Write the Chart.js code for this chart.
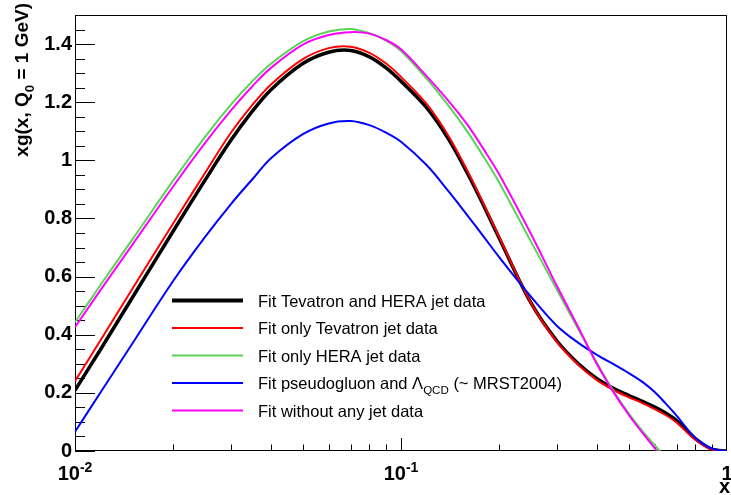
<!DOCTYPE html>
<html>
<head>
<meta charset="utf-8">
<script src="https://cdn.jsdelivr.net/npm/chart.js@4.4.1/dist/chart.umd.min.js"></script>
<style>
  body { margin: 0; background: #fff; }
  canvas { display: block; }
</style>
</head>
<body>
<canvas id="c" width="731" height="495"></canvas>
<script>
// x grid (log scale) for the fits that reach x = 1
var xFull = [0.01, 0.012, 0.015, 0.02, 0.025, 0.03, 0.035, 0.04, 0.05, 0.06, 0.07, 0.08, 0.09, 0.1,
             0.12, 0.14, 0.16, 0.18, 0.2, 0.25, 0.3, 0.35, 0.4, 0.45, 0.5, 0.55, 0.6, 0.65, 0.7, 0.8, 0.9, 1.0];
// the fits without Tevatron data drop to zero near x = 0.6
var xHera = [0.01, 0.012, 0.015, 0.02, 0.025, 0.03, 0.035, 0.04, 0.05, 0.06, 0.07, 0.08, 0.09, 0.1,
             0.12, 0.14, 0.16, 0.18, 0.2, 0.25, 0.3, 0.35, 0.4, 0.45, 0.5, 0.55, 0.6, 0.623];
var xNoJet = [0.01, 0.012, 0.015, 0.02, 0.025, 0.03, 0.035, 0.04, 0.05, 0.06, 0.07, 0.08, 0.09, 0.1,
              0.12, 0.14, 0.16, 0.18, 0.2, 0.25, 0.3, 0.35, 0.4, 0.45, 0.5, 0.55, 0.6, 0.609];

var yTevHera = [0.209, 0.351, 0.528, 0.756, 0.930, 1.067, 1.169, 1.244, 1.333, 1.372, 1.378, 1.356, 1.318, 1.272,
                1.180, 1.072, 0.955, 0.840, 0.733, 0.511, 0.380, 0.300, 0.248, 0.215, 0.191, 0.171, 0.151, 0.130, 0.105, 0.043, 0.006, 0];
var yTev     = [0.240, 0.383, 0.558, 0.783, 0.955, 1.093, 1.191, 1.262, 1.348, 1.386, 1.391, 1.370, 1.333, 1.287,
                1.193, 1.083, 0.963, 0.846, 0.737, 0.511, 0.377, 0.296, 0.243, 0.209, 0.185, 0.165, 0.144, 0.123, 0.098, 0.038, 0.005, 0];
var yHera    = [0.443, 0.573, 0.728, 0.930, 1.079, 1.190, 1.272, 1.333, 1.409, 1.443, 1.452, 1.437, 1.412, 1.376,
                1.280, 1.187, 1.098, 1.009, 0.924, 0.722, 0.557, 0.419, 0.301, 0.204, 0.129, 0.069, 0.020, 0];
var yPseudo  = [0.066, 0.203, 0.370, 0.585, 0.735, 0.848, 0.935, 1.008, 1.090, 1.127, 1.135, 1.121, 1.095, 1.064,
                0.983, 0.893, 0.810, 0.735, 0.667, 0.532, 0.432, 0.372, 0.330, 0.298, 0.268, 0.238, 0.203, 0.162, 0.122, 0.045, 0.008, 0];
var yNoJet   = [0.426, 0.555, 0.710, 0.910, 1.058, 1.170, 1.255, 1.319, 1.398, 1.431, 1.441, 1.436, 1.414, 1.382,
                1.289, 1.204, 1.122, 1.035, 0.952, 0.748, 0.570, 0.425, 0.297, 0.200, 0.124, 0.063, 0.010, 0];

var seriesLabels = ['Fit Tevatron and HERA jet data', 'Fit only Tevatron jet data', 'Fit only HERA jet data',
                    'Fit pseudogluon and \u039B_{QCD} (~ MRST2004)', 'Fit without any jet data'];
var seriesColors = ['#000000', '#ff0000', '#59d454', '#0000ff', '#ff00ff'];
var seriesWidths = [3.5, 2, 2, 2, 2];

var yTickValues = [0, 0.2, 0.4, 0.6, 0.8, 1, 1.2, 1.4];
var xTickLabels = [{ v: 0.01, t: '10^{-2}' }, { v: 0.1, t: '10^{-1}' }, { v: 1, t: '1' }];
var xTitle = 'x';
var yTitle = 'xg(x, Q_{0} = 1 GeV)';

var FONT = '"Liberation Sans", Arial, Helvetica, sans-serif';

function pairs(xs, ys) {
    return xs.map(function (x, i) { return { x: x, y: ys[i] }; });
}

// split "a_{b}c^{d}" into plain / sub / sup pieces
function parseRich(s) {
    var out = [], re = /(_|\^)\{([^}]*)\}/g, last = 0, m;
    while ((m = re.exec(s)) !== null) {
        if (m.index > last) out.push({ t: s.slice(last, m.index), k: 'n' });
        out.push({ t: m[2], k: m[1] === '_' ? 'sub' : 'sup' });
        last = re.lastIndex;
    }
    if (last < s.length) out.push({ t: s.slice(last), k: 'n' });
    return out;
}

function drawRich(ctx, s, x, y, size, weight, align) {
    var parts = parseRich(s), total = 0;
    parts.forEach(function (p) {
        p.size = p.k === 'n' ? size : size * 0.7;
        ctx.font = weight + ' ' + p.size + 'px ' + FONT;
        p.w = ctx.measureText(p.t).width;
        total += p.w;
    });
    var cx = x;
    if (align === 'center') cx = x - total / 2;
    if (align === 'right') cx = x - total;
    ctx.textAlign = 'left';
    ctx.textBaseline = 'alphabetic';
    parts.forEach(function (p) {
        ctx.font = weight + ' ' + p.size + 'px ' + FONT;
        var dy = p.k === 'sub' ? size * 0.3 : (p.k === 'sup' ? -size * 0.42 : 0);
        ctx.fillText(p.t, cx, y + dy);
        cx += p.w;
    });
}

var frameAndTicks = {
    id: 'frameAndTicks',
    beforeDatasetsDraw: function (chart) {
        var ctx = chart.ctx, a = chart.chartArea;
        var xs = chart.scales.x, ys = chart.scales.y;
        ctx.save();
        ctx.strokeStyle = '#000';
        ctx.lineWidth = 1;
        ctx.strokeRect(a.left + 0.5, a.top + 0.5, a.right - a.left - 1, a.bottom - a.top - 1);
        ctx.beginPath();
        // y ticks: major every 0.2, minor every 0.05
        for (var i = 0; i <= 30; i++) {
            var v = i * 0.05;
            var py = Math.round(ys.getPixelForValue(v)) + 0.5;
            var len = (i % 4 === 0) ? 20 : 10;
            ctx.moveTo(a.left, py);
            ctx.lineTo(a.left + len, py);
        }
        // x ticks: decades major, 2..9 minor
        [0.01, 0.1].forEach(function (d) {
            for (var k = 1; k <= 9; k++) {
                var px = Math.round(xs.getPixelForValue(d * k)) + 0.5;
                var l = k === 1 ? 13 : 6.5;
                ctx.moveTo(px, a.bottom);
                ctx.lineTo(px, a.bottom - l);
            }
        });
        ctx.stroke();
        ctx.restore();
    },
    afterDraw: function (chart) {
        var ctx = chart.ctx, a = chart.chartArea;
        var xs = chart.scales.x;
        ctx.save();
        ctx.fillStyle = '#000';
        xTickLabels.forEach(function (l) {
            drawRich(ctx, l.t, xs.getPixelForValue(l.v), a.bottom + 29, 20, 'bold', 'center');
        });
        drawRich(ctx, xTitle, 730, 493, 20, 'bold', 'right');
        ctx.save();
        ctx.translate(28, 3);
        ctx.rotate(-Math.PI / 2);
        drawRich(ctx, yTitle, 0, 0, 19, 'bold', 'right');
        ctx.restore();

        // legend
        var rowY = 300.5, step = 27.5;
        seriesLabels.forEach(function (lab, i) {
            var y = rowY + i * step;
            ctx.strokeStyle = seriesColors[i];
            ctx.lineWidth = seriesWidths[i] === 2 ? 2 : 4;
            ctx.beginPath();
            ctx.moveTo(172, y);
            ctx.lineTo(243, y);
            ctx.stroke();
            ctx.fillStyle = '#000';
            drawRich(ctx, lab, 258, y + 6, 16.5, 'normal', 'left');
        });
        ctx.restore();
    }
};

var xsets = [xFull, xFull, xHera, xFull, xNoJet];
var ysets = [yTevHera, yTev, yHera, yPseudo, yNoJet];

new Chart(document.getElementById('c'), {
    type: 'line',
    data: {
        datasets: seriesLabels.map(function (lab, i) {
            return {
                label: lab,
                data: pairs(xsets[i], ysets[i]),
                borderColor: seriesColors[i],
                borderWidth: seriesWidths[i],
                pointRadius: 0,
                fill: false,
                tension: 0.35,
                order: 4 - i
            };
        })
    },
    options: {
        responsive: false,
        animation: false,
        devicePixelRatio: 1,
        layout: { padding: { top: 9, right: 4, bottom: 0, left: 0 } },
        plugins: { legend: { display: false }, tooltip: { enabled: false } },
        scales: {
            x: {
                type: 'logarithmic',
                min: 0.01,
                max: 1,
                grid: { display: false, drawTicks: false },
                border: { display: false },
                ticks: { display: false },
                afterFit: function (s) { s.height = 44; }
            },
            y: {
                type: 'linear',
                min: 0,
                max: 1.5,
                grid: { display: false, drawTicks: false },
                border: { display: false },
                afterBuildTicks: function (s) {
                    s.ticks = yTickValues.map(function (v) { return { value: v }; });
                },
                ticks: {
                    color: '#000',
                    padding: 3,
                    font: { family: FONT, size: 20, weight: 'bold' },
                    callback: function (v) { return String(Math.round(v * 10) / 10); }
                },
                afterFit: function (s) { s.width = 75; }
            }
        }
    },
    plugins: [frameAndTicks]
});
</script>
</body>
</html>
